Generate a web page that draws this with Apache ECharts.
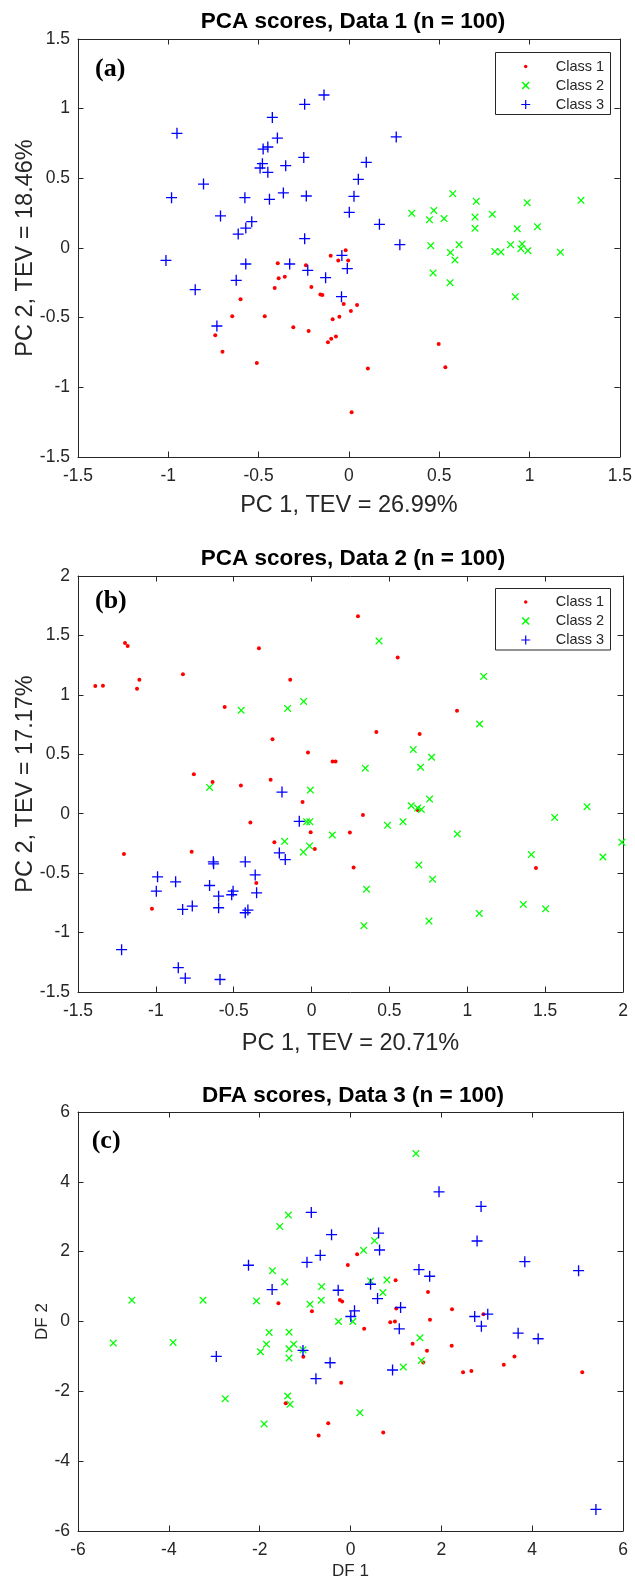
<!DOCTYPE html>
<html>
<head>
<meta charset="utf-8">
<title>PCA / DFA scores</title>
<script src="https://cdn.jsdelivr.net/npm/echarts@6/dist/echarts.min.js"></script>
<style>
  html, body { margin: 0; padding: 0; background: #fff; }
  #chart { width: 635px; height: 1581px; }
</style>
</head>
<body>
<div id="chart"></div>
<script>
// ---- data ----
const classNames = ['Class 1', 'Class 2', 'Class 3'];

const panelTitles = ['PCA scores, Data 1 (n = 100)', 'PCA scores, Data 2 (n = 100)', 'DFA scores, Data 3 (n = 100)'];
const panelLetters = ['(a)', '(b)', '(c)'];
const xNames = ['PC 1, TEV = 26.99%', 'PC 1, TEV = 20.71%', 'DF 1'];
const yNames = ['PC 2, TEV = 18.46%', 'PC 2, TEV = 17.17%', 'DF 2'];

const xTicksA = [-1.5, -1, -0.5, 0, 0.5, 1, 1.5];
const yTicksA = [-1.5, -1, -0.5, 0, 0.5, 1, 1.5];
const xTicksB = [-1.5, -1, -0.5, 0, 0.5, 1, 1.5, 2];
const yTicksB = [-1.5, -1, -0.5, 0, 0.5, 1, 1.5, 2];
const xTicksC = [-6, -4, -2, 0, 2, 4, 6];
const yTicksC = [-6, -4, -2, 0, 2, 4, 6];

const aClass1 = [[-0.101,-0.055],[-0.018,-0.017],[-0.059,-0.089],[-0.004,-0.089],[-0.394,-0.110],[-0.238,-0.124],[-0.389,-0.218],[-0.355,-0.206],[-0.411,-0.287],[-0.208,-0.280],[-0.158,-0.333],[-0.147,-0.337],[-0.600,-0.368],[-0.029,-0.402],[0.045,-0.409],[0.011,-0.452],[-0.646,-0.490],[-0.466,-0.490],[-0.053,-0.493],[-0.090,-0.512],[-0.308,-0.569],[-0.223,-0.596],[-0.740,-0.627],[-0.072,-0.636],[-0.098,-0.651],[-0.116,-0.677],[-0.700,-0.744],[-0.510,-0.825],[0.015,-1.179],[0.497,-0.689],[0.534,-0.856],[0.105,-0.864]];
const aClass2 = [[0.575,0.390],[0.705,0.335],[0.987,0.325],[1.285,0.342],[0.348,0.249],[0.470,0.270],[0.446,0.203],[0.527,0.211],[0.698,0.222],[0.794,0.242],[0.698,0.141],[0.932,0.139],[1.044,0.153],[0.453,0.017],[0.610,0.024],[0.562,-0.033],[0.587,-0.087],[0.808,-0.026],[0.842,-0.029],[0.895,0.024],[0.959,0.029],[0.952,-0.005],[0.991,-0.019],[1.171,-0.031],[0.466,-0.179],[0.560,-0.249],[0.921,-0.349]];
const aClass3 = [[-0.952,0.823],[-0.982,0.361],[-0.805,0.459],[-0.711,0.230],[-0.613,0.100],[-0.571,0.143],[-0.538,0.189],[-0.576,0.361],[-0.492,0.574],[-0.479,0.605],[-0.475,0.710],[-0.449,0.725],[-0.449,0.543],[-0.440,0.349],[-0.424,0.937],[-0.396,0.789],[-0.350,0.591],[-0.363,0.395],[-0.250,0.650],[-0.245,1.031],[-0.236,0.373],[-0.245,0.067],[-0.138,1.098],[0.002,0.256],[0.028,0.371],[0.052,0.493],[0.096,0.615],[0.262,0.797],[0.169,0.170],[0.282,0.024],[-0.039,-0.053],[-1.013,-0.089],[-0.851,-0.299],[-0.731,-0.560],[-0.624,-0.232],[-0.571,-0.115],[-0.328,-0.115],[-0.228,-0.160],[-0.129,-0.213],[-0.009,-0.148],[-0.041,-0.349]];

const bClass1 = [[-1.389,1.074],[-1.340,1.077],[-1.198,1.437],[-1.181,1.412],[-1.121,1.051],[-1.106,1.127],[-0.826,1.174],[-0.558,0.898],[-0.338,1.393],[-0.137,1.127],[-0.251,0.626],[-0.023,0.515],[0.298,1.661],[0.553,1.314],[0.934,0.867],[0.416,0.688],[0.694,0.671],[-0.756,0.333],[-0.636,0.266],[-0.454,0.238],[-0.263,0.285],[0.135,0.439],[0.154,0.439],[-0.058,0.098],[-0.393,-0.073],[-0.006,-0.157],[0.246,-0.159],[-0.239,-0.240],[0.021,-0.296],[-1.205,-0.338],[-0.770,-0.319],[0.270,-0.453],[-0.355,-0.582],[-1.025,-0.800],[0.330,-0.011],[0.681,0.031],[1.441,-0.456]];
const bClass2 = [[-0.452,0.870],[-0.154,0.886],[-0.051,0.945],[0.433,1.454],[1.105,1.155],[1.079,0.755],[0.653,0.540],[0.771,0.475],[-0.655,0.221],[-0.008,0.199],[-0.032,-0.067],[-0.011,-0.067],[-0.173,-0.232],[0.133,-0.179],[-0.053,-0.324],[-0.013,-0.271],[0.345,0.383],[0.700,0.391],[0.758,0.123],[0.640,0.067],[0.681,0.048],[0.705,0.036],[0.488,-0.098],[0.587,-0.067],[0.936,-0.171],[1.411,-0.344],[1.561,-0.031],[1.769,0.059],[1.993,-0.240],[1.871,-0.364],[0.689,-0.431],[0.777,-0.551],[0.353,-0.635],[1.360,-0.763],[1.503,-0.800],[1.077,-0.839],[0.754,-0.903],[0.336,-0.942]];
const bClass3 = [[-0.190,0.182],[-0.079,-0.064],[-0.207,-0.330],[-0.169,-0.386],[-0.631,-0.405],[-0.629,-0.422],[-0.426,-0.405],[-0.362,-0.515],[-0.353,-0.666],[-0.989,-0.531],[-0.997,-0.652],[-0.873,-0.573],[-0.655,-0.604],[-0.597,-0.694],[-0.513,-0.682],[-0.504,-0.652],[-0.766,-0.777],[-0.828,-0.805],[-0.597,-0.791],[-0.426,-0.833],[-0.409,-0.811],[-1.220,-1.144],[-0.856,-1.295],[-0.811,-1.384],[-0.588,-1.395]];

const cClass1 = [[-1.587,0.524],[-0.849,0.295],[-0.234,0.619],[-0.183,0.571],[-0.059,1.619],[0.146,1.924],[0.993,1.181],[1.706,0.848],[1.007,0.371],[2.235,0.352],[2.926,0.210],[1.750,0.050],[-1.039,-1.010],[-1.426,-2.343],[-0.702,-3.267],[-0.490,-2.914],[0.875,-0.019],[0.978,0.0],[0.301,-0.210],[1.368,-0.638],[1.684,-0.838],[2.228,-0.695],[1.603,-1.171],[3.375,-1.238],[3.610,-1.0],[2.478,-1.457],[2.662,-1.419],[5.103,-1.457],[-0.206,-1.752],[0.721,-3.181]];
const cClass2 = [[-4.814,0.610],[-3.248,0.610],[-2.070,0.590],[-1.719,1.457],[-1.448,1.133],[-1.558,2.724],[-1.368,3.048],[-0.892,0.495],[-0.636,1.000],[-0.644,0.610],[1.441,4.810],[0.529,2.314],[0.287,2.038],[0.441,1.162],[0.801,1.190],[0.713,0.829],[-5.223,-0.619],[-3.906,-0.600],[-2.758,-2.210],[-1.792,-0.314],[-1.851,-0.648],[-1.982,-0.867],[-1.353,-0.305],[-1.251,-0.648],[-1.353,-0.781],[-1.353,-1.048],[-1.383,-2.133],[-1.331,-2.371],[-1.902,-2.933],[-1.046,-0.810],[-0.265,0.0],[0.051,0.0],[1.529,-0.467],[1.559,-1.114],[1.162,-1.305],[0.206,-2.610]];
const cClass3 = [[-0.863,3.124],[-0.417,2.486],[-0.666,1.895],[-0.958,1.695],[-2.246,1.610],[-1.726,0.914],[-0.271,0.895],[0.088,0.305],[0.007,0.143],[1.949,3.714],[2.875,3.295],[2.787,2.305],[0.618,2.533],[0.640,2.048],[3.838,1.714],[5.022,1.457],[1.507,1.486],[1.743,1.295],[0.441,1.067],[0.596,0.657],[1.103,0.400],[2.735,0.143],[3.022,0.210],[-2.955,-1.000],[-1.046,-0.829],[-0.761,-1.638],[-0.449,-1.181],[1.074,-0.210],[2.882,-0.133],[3.691,-0.333],[4.132,-0.495],[0.926,-1.390],[5.404,-5.381]];

// ---- styling ----
const FONT = '"Liberation Sans", Arial, sans-serif';
const AXIS_COLOR = '#262626';
const colors = ['#ff0000', '#00ff00', '#0000ff'];

// marker shapes (filled thin polygons so they look like stroked x / +)
const xSymbol = 'path://M0,1.2L1.2,0L5,3.8L8.8,0L10,1.2L6.2,5L10,8.8L8.8,10L5,6.2L1.2,10L0,8.8L3.8,5Z';
const plusSymbol = 'path://M4.4,0L5.6,0L5.6,4.4L10,4.4L10,5.6L5.6,5.6L5.6,10L4.4,10L4.4,5.6L0,5.6L0,4.4L4.4,4.4Z';

// legend icons live in a 12x12 box; tiny specks in the corners fix the box size
const speck = 'M0,0L0.01,0L0.01,0.01Z M11.99,11.99L12,11.99L12,12Z ';
const dotIcon = 'path://' + speck + 'M7.8,6L7.27,7.27L6,7.8L4.73,7.27L4.2,6L4.73,4.73L6,4.2L7.27,4.73Z';
const xIcon = 'path://' + speck + 'M2,3.1L3.1,2L6,4.9L8.9,2L10,3.1L7.1,6L10,8.9L8.9,10L6,7.1L3.1,10L2,8.9L4.9,6Z';
const plusIcon = 'path://' + speck + 'M5.4,1.5L6.6,1.5L6.6,5.4L10.5,5.4L10.5,6.6L6.6,6.6L6.6,10.5L5.4,10.5L5.4,6.6L1.5,6.6L1.5,5.4L5.4,5.4Z';

const grids = [
    { left: 78, top: 39, width: 545, height: 418 },
    { left: 78, top: 576, width: 545, height: 416 },
    { left: 78, top: 1112, width: 545, height: 420 }
];
const xTicks = [xTicksA, xTicksB, xTicksC];
const yTicks = [yTicksA, yTicksB, yTicksC];
const panelData = [[aClass1, aClass2, aClass3], [bClass1, bClass2, bClass3], [cClass1, cClass2, cClass3]];
const nameSize = [23.5, 23.5, 17];
const xNameGap = [37, 39.5, 32];
const yNameGap = [40, 40, 27.5];

function valueAxis(ticks, gridIndex, position, withLabels, extra) {
    return Object.assign({
        type: 'value',
        gridIndex: gridIndex,
        position: position,
        min: ticks[0],
        max: ticks[ticks.length - 1],
        interval: ticks[1] - ticks[0],
        splitLine: { show: false },
        axisLine: { show: true, onZero: false, lineStyle: { color: AXIS_COLOR, width: 1 } },
        axisTick: { show: true, inside: true, length: 5.5, lineStyle: { color: AXIS_COLOR } },
        axisLabel: {
            show: withLabels,
            showMinLabel: true,
            showMaxLabel: true,
            color: AXIS_COLOR,
            fontSize: 17.5,
            fontFamily: FONT,
            margin: position === 'bottom' ? 10 : 8
        }
    }, extra || {});
}

const xAxes = [];
const yAxes = [];
const series = [];
grids.forEach((g, i) => {
    xAxes.push(valueAxis(xTicks[i], i, 'bottom', true, {
        name: xNames[i],
        nameLocation: 'middle',
        nameGap: xNameGap[i],
        nameMoveOverlap: false,
        nameTextStyle: { fontSize: nameSize[i], color: AXIS_COLOR, fontFamily: FONT }
    }));
    xAxes.push(valueAxis(xTicks[i], i, 'top', false));
    yAxes.push(valueAxis(yTicks[i], i, 'left', true, {
        name: yNames[i],
        nameLocation: 'middle',
        nameGap: yNameGap[i],
        nameMoveOverlap: false,
        nameTextStyle: { fontSize: nameSize[i], color: AXIS_COLOR, fontFamily: FONT }
    }));
    yAxes.push(valueAxis(yTicks[i], i, 'right', false));

    panelData[i].forEach((pts, k) => {
        series.push({
            name: classNames[k],
            type: 'scatter',
            xAxisIndex: 2 * i,
            yAxisIndex: 2 * i,
            data: pts,
            symbol: k === 0 ? 'circle' : (k === 1 ? xSymbol : plusSymbol),
            symbolSize: k === 0 ? 4 : (k === 1 ? 7.5 : 11),
            itemStyle: { color: colors[k], opacity: 1 },
            emphasis: { disabled: true },
            silent: true
        });
    });
});

// legends only for (a) and (b)
const legendTops = [57, 592.5];
const legends = legendTops.map(t => ({
    orient: 'vertical',
    left: 519.7,
    top: t,
    padding: 0,
    itemWidth: 12,
    itemHeight: 12,
    itemGap: 0,
    selectedMode: false,
    textStyle: { fontSize: 14.5, color: AXIS_COLOR, fontFamily: FONT, lineHeight: 19, padding: [0, 0, 0, 19] },
    data: [
        { name: 'Class 1', icon: dotIcon },
        { name: 'Class 2', icon: xIcon },
        { name: 'Class 3', icon: plusIcon }
    ]
}));

const titleTops = [10, 547, 1084];
const titles = panelTitles.map((t, i) => ({
    text: t,
    left: 353,
    top: titleTops[i],
    textAlign: 'center',
    padding: 0,
    textStyle: { fontSize: 22.5, fontWeight: 'bold', color: '#000', fontFamily: FONT }
}));

const letterPos = [[95, 56], [95, 588], [91.7, 1128]];
const graphics = [
    { type: 'rect', shape: { x: 495.5, y: 52.5, width: 115, height: 62 }, style: { fill: '#fff', stroke: AXIS_COLOR, lineWidth: 1 } },
    { type: 'rect', shape: { x: 495.5, y: 588.5, width: 115, height: 61.5 }, style: { fill: '#fff', stroke: AXIS_COLOR, lineWidth: 1 } }
];
panelLetters.forEach((l, i) => {
    graphics.push({
        type: 'text',
        x: letterPos[i][0],
        y: letterPos[i][1],
        style: { text: l, font: 'bold 26px "Liberation Serif", "Times New Roman", serif', fill: '#000' }
    });
});

const chart = echarts.init(document.getElementById('chart'), null, { renderer: 'canvas' });
chart.setOption({
    animation: false,
    backgroundColor: '#fff',
    title: titles,
    legend: legends,
    grid: grids,
    xAxis: xAxes,
    yAxis: yAxes,
    graphic: graphics,
    series: series
});
</script>
</body>
</html>
